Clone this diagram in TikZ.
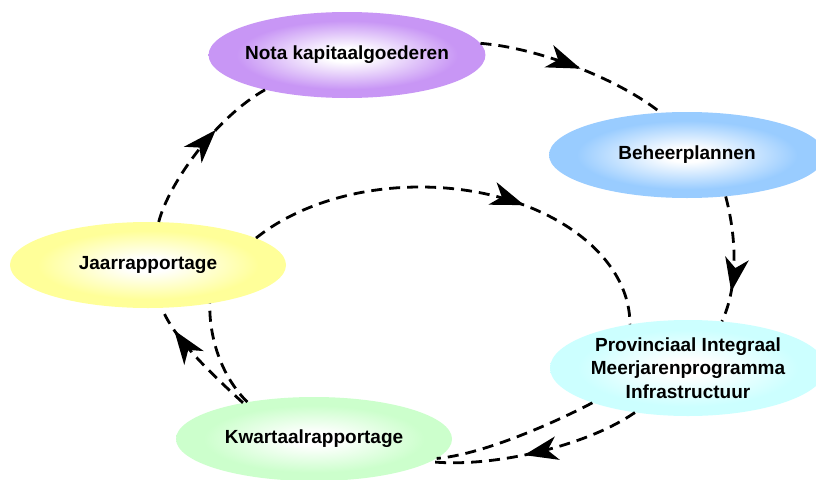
\documentclass[tikz,border=0pt]{standalone}
\usepackage{fontspec}
\setmainfont{Liberation Sans}
\usetikzlibrary{decorations.markings,shapes.geometric}
\definecolor{cpurple}{RGB}{200,150,245}
\definecolor{cblue}{RGB}{153,204,255}
\definecolor{ccyan}{RGB}{204,255,255}
\definecolor{cgreen}{RGB}{204,255,204}
\definecolor{cyellow}{RGB}{255,255,153}
\pgfdeclareradialshading{shpurple}{\pgfpoint{0bp}{0bp}}{color(0bp)=(white); color(4bp)=(white); color(20bp)=(cpurple); color(50bp)=(cpurple)}
\pgfdeclareradialshading{shblue}{\pgfpoint{0bp}{0bp}}{color(0bp)=(white); color(4bp)=(white); color(20bp)=(cblue); color(50bp)=(cblue)}
\pgfdeclareradialshading{shcyan}{\pgfpoint{0bp}{0bp}}{color(0bp)=(white); color(4bp)=(white); color(20bp)=(ccyan); color(50bp)=(ccyan)}
\pgfdeclareradialshading{shgreen}{\pgfpoint{0bp}{0bp}}{color(0bp)=(white); color(4bp)=(white); color(20bp)=(cgreen); color(50bp)=(cgreen)}
\pgfdeclareradialshading{shyellow}{\pgfpoint{0bp}{0bp}}{color(0bp)=(white); color(4bp)=(white); color(20bp)=(cyellow); color(50bp)=(cyellow)}
\tikzset{
  bubble/.style={ellipse, shade, minimum width=276pt, minimum height=86pt, inner ysep=0pt, inner xsep=-4pt,
    font=\fontsize{19}{23.5}\selectfont\bfseries, align=center},
  flow/.style={line width=2.8pt, dash pattern=on 11pt off 7pt},
  arrowat/.style={postaction={decorate}, decoration={markings,
    mark=at position #1 with {\fill[black] (2pt,0pt) -- (-32pt,12pt) -- (-22pt,0pt) -- (-32pt,-12pt) -- cycle;}}}
}
\begin{document}
\begin{tikzpicture}[x=1pt,y=-1pt]
\useasboundingbox (0,0) rectangle (816,479);
\fill[white] (0,0) rectangle (816,479);
\node[bubble, shading=shpurple] (nota) at (347,55) {Nota kapitaalgoederen};
\node[bubble, shading=shblue] (beheer) at (687,155) {Beheerplannen};
\node[bubble, shading=shcyan, minimum height=96pt] (pimi) at (688,368) {Provinciaal Integraal\\Meerjarenprogramma\\Infrastructuur};
\node[bubble, shading=shgreen, minimum height=84pt] (kw) at (314,439) {Kwartaalrapportage};
\node[bubble, shading=shyellow] (jaar) at (148,265) {Jaarrapportage};
\coordinate (top) at (420,187);
% outer cycle
\draw[flow, arrowat=0.52] (nota.5) .. controls (540,48) and (620,80) .. (beheer.122);
\draw[flow, arrowat=0.74] (beheer.-47) .. controls (736,235) and (739,285) .. (pimi.54);
\draw[flow, arrowat=0.55] (pimi.220) .. controls (585,447) and (490,468) .. (kw.-11);
\draw[flow, arrowat=0.78] (kw.153) .. controls (205,368) and (172,335) .. (jaar.-72);
\draw[flow, arrowat=0.62] (jaar.76) .. controls (168,185) and (215,118) .. (nota.203);
% inner cycle
\draw[flow, arrowat=0.62] (jaar.14) .. controls (296.6,205.6) and (356.7,187) .. (top)
  .. controls (537,187) and (630,249.5) .. (pimi.143);
\draw[flow] (pimi.200) .. controls (550,425) and (480,455) .. (kw.-9);
\draw[flow] (kw.151) .. controls (220,375) and (209,335) .. (jaar.-32);
\end{tikzpicture}
\end{document}
